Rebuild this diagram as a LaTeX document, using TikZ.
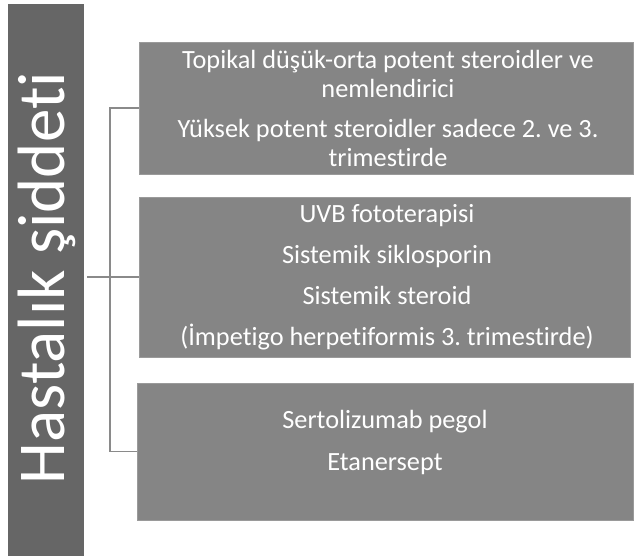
\documentclass[tikz,border=0pt]{standalone}
\usepackage{fontspec}
\setmainfont{Carlito}[Ligatures={NoCommon}]
\frenchspacing
\definecolor{barc}{HTML}{666666}
\definecolor{boxc}{HTML}{858585}
\definecolor{boxline}{HTML}{9A9A9A}
\definecolor{connc}{HTML}{8A8A8A}
\tikzset{
  infobox/.style={fill=boxc, draw=boxline, line width=0.8pt, inner sep=0pt},
  infotext/.style={text=white, align=center, inner sep=0pt, font=\fontsize{26.3}{29}\selectfont},
  conn/.style={draw=connc, line width=1.6pt},
}
\begin{document}
\begin{tikzpicture}[x=1pt,y=-1pt]
\useasboundingbox (0,0) rectangle (638,559);
% left bar
\node[fill=barc, minimum width=76pt, minimum height=552pt, inner sep=0pt] (bar) at (46,280) {};
\node[rotate=90, anchor=base, text=white, font=\fontsize{67}{67}\selectfont, inner sep=0pt] (title) at (64,278) {Hastalık şiddeti};
% boxes
\node[infobox, minimum width=494pt, minimum height=132pt] (b1) at (386,108) {};
\node[infobox, minimum width=491pt, minimum height=160pt] (b2) at (384.5,277) {};
\node[infobox, minimum width=496pt, minimum height=137pt] (b3) at (385,451.5) {};
% texts
\node[infotext] (t1) at (388,108)
  {Topikal düşük-orta potent steroidler ve\\ nemlendirici\\[11pt]
   Yüksek potent steroidler sadece 2. ve 3.\\ trimestirde};
\node[infotext, font=\fontsize{26.3}{41}\selectfont] (t2) at (387,277.5)
  {UVB fototerapisi\\ Sistemik siklosporin\\ Sistemik steroid\\ (İmpetigo herpetiformis 3. trimestirde)};
\node[infotext, font=\fontsize{26.3}{42}\selectfont] (t3) at (385,442)
  {Sertolizumab pegol\\ Etanersept};
% connectors
\coordinate (j) at (110,277);
\coordinate (m) at (87,277);
\draw[conn] (b1.west) -| (j) |- (b3.west);
\draw[conn] (m) -- (b2.west);
\end{tikzpicture}
\end{document}
